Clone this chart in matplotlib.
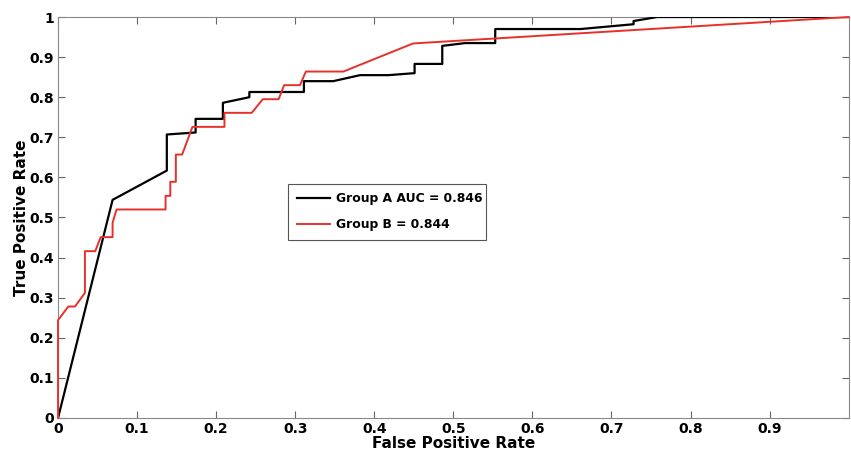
import numpy as np
import matplotlib
matplotlib.use('Agg')
import matplotlib.pyplot as plt

# ROC points
fpr_a = [0, 0.069, 0.1376, 0.1376, 0.174, 0.174, 0.2085, 0.2085, 0.242, 0.242,
         0.311, 0.311, 0.348, 0.382, 0.418, 0.451, 0.451, 0.486, 0.486, 0.515,
         0.553, 0.553, 0.661, 0.728, 0.728, 0.758, 1.0]
tpr_a = [0, 0.544, 0.617, 0.707, 0.712, 0.746, 0.746, 0.786, 0.80, 0.813,
         0.813, 0.840, 0.840, 0.855, 0.855, 0.860, 0.883, 0.883, 0.928, 0.935,
         0.935, 0.970, 0.970, 0.982, 0.990, 1.0, 1.0]

fpr_b = [0, 0, 0.013, 0.0215, 0.034, 0.034, 0.047, 0.054, 0.069, 0.069, 0.074,
         0.136, 0.136, 0.142, 0.142, 0.149, 0.149, 0.157, 0.170, 0.2105, 0.2105,
         0.245, 0.259, 0.279, 0.286, 0.306, 0.3135, 0.361, 0.449, 1.0]
tpr_b = [0, 0.244, 0.278, 0.278, 0.312, 0.416, 0.416, 0.451, 0.451, 0.487, 0.520,
         0.520, 0.554, 0.554, 0.589, 0.589, 0.657, 0.657, 0.726, 0.726, 0.761,
         0.761, 0.795, 0.795, 0.830, 0.830, 0.864, 0.864, 0.934, 1.0]

labels = ['Group A AUC = 0.846', 'Group B = 0.844']
xticks = np.arange(0, 1.0, 0.1)
yticks = np.arange(0, 1.01, 0.1)

plt.rcParams['font.family'] = 'DejaVu Sans'
plt.rcParams['font.weight'] = 'bold'

fig = plt.figure(figsize=(8.51, 4.51), dpi=100)
ax = fig.add_axes([0.0682, 0.0732, 0.929, 0.8891])

ax.plot(fpr_a, tpr_a, color='black', lw=1.6, label=labels[0], zorder=3)
ax.plot(fpr_b, tpr_b, color='#e8302a', lw=1.4, label=labels[1],
        clip_on=False, zorder=3)

ax.set_xlim(0, 1)
ax.set_ylim(0, 1)
ax.set_xticks(xticks)
ax.set_xticklabels(['0'] + ['%.1f' % v for v in xticks[1:]])
ax.set_yticks(yticks)
ax.set_yticklabels(['0'] + ['%.1f' % v for v in yticks[1:-1]] + ['1'])
ax.tick_params(direction='in', length=5, width=0.8, color='#666666',
               labelsize=10, top=True, right=True, pad=3)
for lab in ax.get_xticklabels() + ax.get_yticklabels():
    lab.set_fontweight('bold')
for s in ax.spines.values():
    s.set_color('#888888')
    s.set_linewidth(0.8)

ax.set_xlabel('False Positive Rate', fontsize=11, fontweight='bold', labelpad=0)
ax.set_ylabel('True Positive Rate', fontsize=11, fontweight='bold', labelpad=0)

leg = ax.legend(loc='lower left', bbox_to_anchor=(0.291, 0.444, 0.25, 0.135),
                mode='expand', fancybox=False, framealpha=1, fontsize=8.9,
                handlelength=2.7, borderpad=0.7, labelspacing=1.05,
                handletextpad=0.5, borderaxespad=0)
leg.get_frame().set_edgecolor('#555555')
leg.get_frame().set_linewidth(0.8)
for t in leg.get_texts():
    t.set_fontweight('bold')

fig.savefig('out.png', dpi=100)
